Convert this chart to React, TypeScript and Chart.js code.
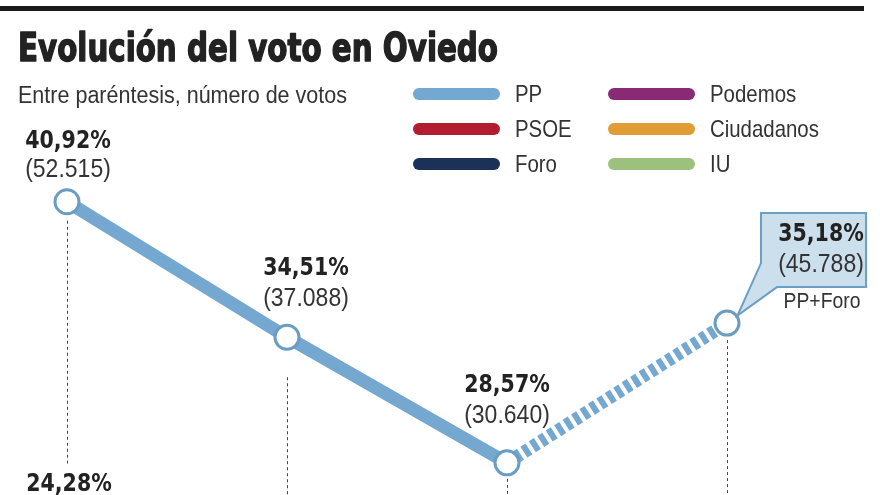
import { useEffect, useRef } from 'react';
import { Chart, registerables } from 'chart.js';

Chart.register(...registerables);

// ---- data ----
const elections = ['Elección 1', 'Elección 2', 'Elección 3', 'Elección 4'];
const ppPct = [40.92, 34.51, 28.57, 35.18];
const ppVotes = [52515, 37088, 30640, 45788];
const ppNotes: (string | null)[] = [null, null, null, 'PP+Foro'];
const psoePct: (number | null)[] = [24.28, null, null, null];
const foroPct: (number | null)[] = [null, null, null, null];
const podemosPct: (number | null)[] = [null, null, null, null];
const ciudadanosPct: (number | null)[] = [null, null, null, null];
const iuPct: (number | null)[] = [null, null, null, null];
const parties = ['PP', 'PSOE', 'Foro', 'Podemos', 'Ciudadanos', 'IU'];
const partyColors = ['#74a8d0', '#b21d2f', '#1b3157', '#8a2a74', '#e09c35', '#9cc17d'];
const titleText = 'Evolución del voto en Oviedo';
const subtitleText = 'Entre paréntesis, número de votos';

const fmtPct = (v: number) => v.toFixed(2).replace('.', ',') + '%';
const fmtVotes = (n: number) => '(' + String(n).replace(/\B(?=(\d{3})+(?!\d))/g, '.') + ')';

const BOLD = "bold 24px 'DejaVu Sans Condensed', 'DejaVu Sans', sans-serif";
const REG_FAMILY = "'Liberation Sans', Arial, sans-serif";

// draw text horizontally squeezed by sx
function drawText(
  ctx: CanvasRenderingContext2D,
  text: string,
  x: number,
  y: number,
  font: string,
  sx: number,
  align: CanvasTextAlign,
) {
  ctx.save();
  ctx.font = font;
  ctx.textAlign = align;
  ctx.translate(x, y);
  ctx.scale(sx, 1);
  ctx.fillText(text, 0, 0);
  ctx.restore();
}

export default function App() {
  const ref = useRef<HTMLCanvasElement>(null);

  useEffect(() => {
    if (!ref.current) return;

    // label placement relative to each PP point (dx, bold baseline dy, votes baseline dy)
    const labelPos = [
      { dx: 1, b: -54, r: -25 },
      { dx: 19, b: -62, r: -31 },
      { dx: 0, b: -71, r: -40 },
      { dx: 94, b: -82, r: -51 },
    ];
    const dropGap = [19, 40, 16, 17];
    const psoeLabelDy = -63;

    const decor = {
      id: 'decor',
      beforeDatasetsDraw(chart: any) {
        const ctx = chart.ctx as CanvasRenderingContext2D;
        const meta = chart.getDatasetMeta(0);
        const ys = chart.scales.y;
        ctx.save();
        ctx.strokeStyle = '#444';
        ctx.lineWidth = 1;
        ctx.setLineDash([3, 3]);
        meta.data.forEach((pt: any, i: number) => {
          const x = Math.round(pt.x) + 0.5;
          let end = chart.height;
          const pv = psoePct[i];
          if (pv != null) end = ys.getPixelForValue(pv) + psoeLabelDy - 27;
          ctx.beginPath();
          ctx.moveTo(x, pt.y + dropGap[i]);
          ctx.lineTo(x, end);
          ctx.stroke();
        });
        ctx.restore();
      },
      afterDatasetsDraw(chart: any) {
        const ctx = chart.ctx as CanvasRenderingContext2D;
        const meta = chart.getDatasetMeta(0);
        const ys = chart.scales.y;
        const xs = chart.scales.x;
        ctx.save();

        // header
        ctx.fillStyle = '#1a1a1a';
        ctx.fillRect(0, 6, 864, 5);
        ctx.fillStyle = '#222';
        ctx.strokeStyle = '#222';
        ctx.lineWidth = 1.4;
        ctx.lineJoin = 'round';
        ctx.textAlign = 'left';
        ctx.textBaseline = 'alphabetic';
        ctx.font = "bold 39px 'DejaVu Sans Condensed', 'DejaVu Sans', sans-serif";
        ctx.fillText(titleText, 18, 61, 480);
        ctx.strokeText(titleText, 18, 61, 480);
        ctx.fillStyle = '#333';
        ctx.font = '23px ' + REG_FAMILY;
        ctx.fillText(subtitleText, 18, 103, 329);

        // legend (3 rows, 2 columns)
        parties.forEach((name, i) => {
          const col = Math.floor(i / 3);
          const row = i % 3;
          const x0 = 413 + col * 195;
          const y = 94 + row * 35;
          ctx.strokeStyle = partyColors[i];
          ctx.lineCap = 'round';
          ctx.lineWidth = 12;
          ctx.beginPath();
          ctx.moveTo(x0 + 6, y);
          ctx.lineTo(x0 + 81, y);
          ctx.stroke();
          ctx.fillStyle = '#333';
          ctx.textBaseline = 'middle';
          drawText(ctx, name, x0 + 102, y + 1, '24px ' + REG_FAMILY, 0.85, 'left');
        });

        // PP labels
        ctx.textBaseline = 'alphabetic';
        ctx.lineCap = 'butt';
        meta.data.forEach((pt: any, i: number) => {
          const p = labelPos[i];
          const cx = pt.x + p.dx;
          if (ppNotes[i]) {
            // callout box
            const left = pt.x + 34, right = pt.x + 139, top = pt.y - 110, bottom = pt.y - 36;
            const tipX = pt.x + Math.cos(-Math.PI / 4) * 12;
            const tipY = pt.y + Math.sin(-Math.PI / 4) * 12;
            ctx.beginPath();
            ctx.moveTo(left, top);
            ctx.lineTo(right, top);
            ctx.lineTo(right, bottom);
            ctx.lineTo(left + 16, bottom);
            ctx.lineTo(tipX + 2, tipY + 1);
            ctx.lineTo(left, bottom - 24);
            ctx.closePath();
            ctx.fillStyle = '#cbdfed';
            ctx.fill();
            ctx.strokeStyle = '#6d9ec4';
            ctx.lineWidth = 2;
            ctx.lineJoin = 'miter';
            ctx.stroke();
          }
          ctx.fillStyle = '#222';
          drawText(ctx, fmtPct(ppPct[i]), cx, pt.y + p.b, BOLD, 0.95, 'center');
          ctx.fillStyle = '#333';
          drawText(ctx, fmtVotes(ppVotes[i]), cx, pt.y + p.r, '25px ' + REG_FAMILY, 0.92, 'center');
          if (ppNotes[i]) {
            drawText(ctx, ppNotes[i] as string, cx + 1, pt.y - 15, '22px ' + REG_FAMILY, 0.88, 'center');
          }
        });

        // PSOE labels
        psoePct.forEach((v, i) => {
          if (v == null) return;
          const x = xs.getPixelForValue(i);
          const y = ys.getPixelForValue(v);
          ctx.fillStyle = '#222';
          drawText(ctx, fmtPct(v), x + 2, y + psoeLabelDy, BOLD, 0.95, 'center');
        });

        ctx.restore();
      },
    };

    const base = {
      borderWidth: 13,
      pointRadius: 12,
      pointBorderWidth: 3,
      pointBackgroundColor: '#ffffff',
      tension: 0,
      clip: false as any,
      spanGaps: false,
    };

    const chart = new Chart(ref.current, {
      type: 'line',
      data: {
        labels: elections,
        datasets: [
          {
            ...base,
            label: parties[0],
            data: ppPct,
            borderColor: partyColors[0],
            pointBorderColor: '#6b9dc3',
            segment: {
              borderDash: (c: any) => (c.p1DataIndex === 3 ? [6, 4] : undefined),
            },
          },
          { ...base, label: parties[1], data: psoePct, borderColor: partyColors[1], pointBorderColor: partyColors[1] },
          { ...base, label: parties[2], data: foroPct, borderColor: partyColors[2], pointBorderColor: partyColors[2] },
          { ...base, label: parties[3], data: podemosPct, borderColor: partyColors[3], pointBorderColor: partyColors[3] },
          { ...base, label: parties[4], data: ciudadanosPct, borderColor: partyColors[4], pointBorderColor: partyColors[4] },
          { ...base, label: parties[5], data: iuPct, borderColor: partyColors[5], pointBorderColor: partyColors[5] },
        ] as any,
      },
      options: {
        animation: false,
        responsive: false,
        events: [],
        layout: { autoPadding: false, padding: { left: 67, right: 153, top: 0, bottom: 0 } },
        scales: {
          x: { display: false, offset: false },
          y: { display: false, min: 27.05, max: 50.46 },
        },
        plugins: {
          legend: { display: false },
          tooltip: { enabled: false },
          title: { display: false },
        },
      } as any,
      plugins: [decor],
    });

    return () => chart.destroy();
  }, []);

  return (
    <div style={{ position: 'absolute', left: 0, top: 0, width: 880, height: 495, background: '#fff' }}>
      <canvas ref={ref} width={880} height={495} />
    </div>
  );
}
